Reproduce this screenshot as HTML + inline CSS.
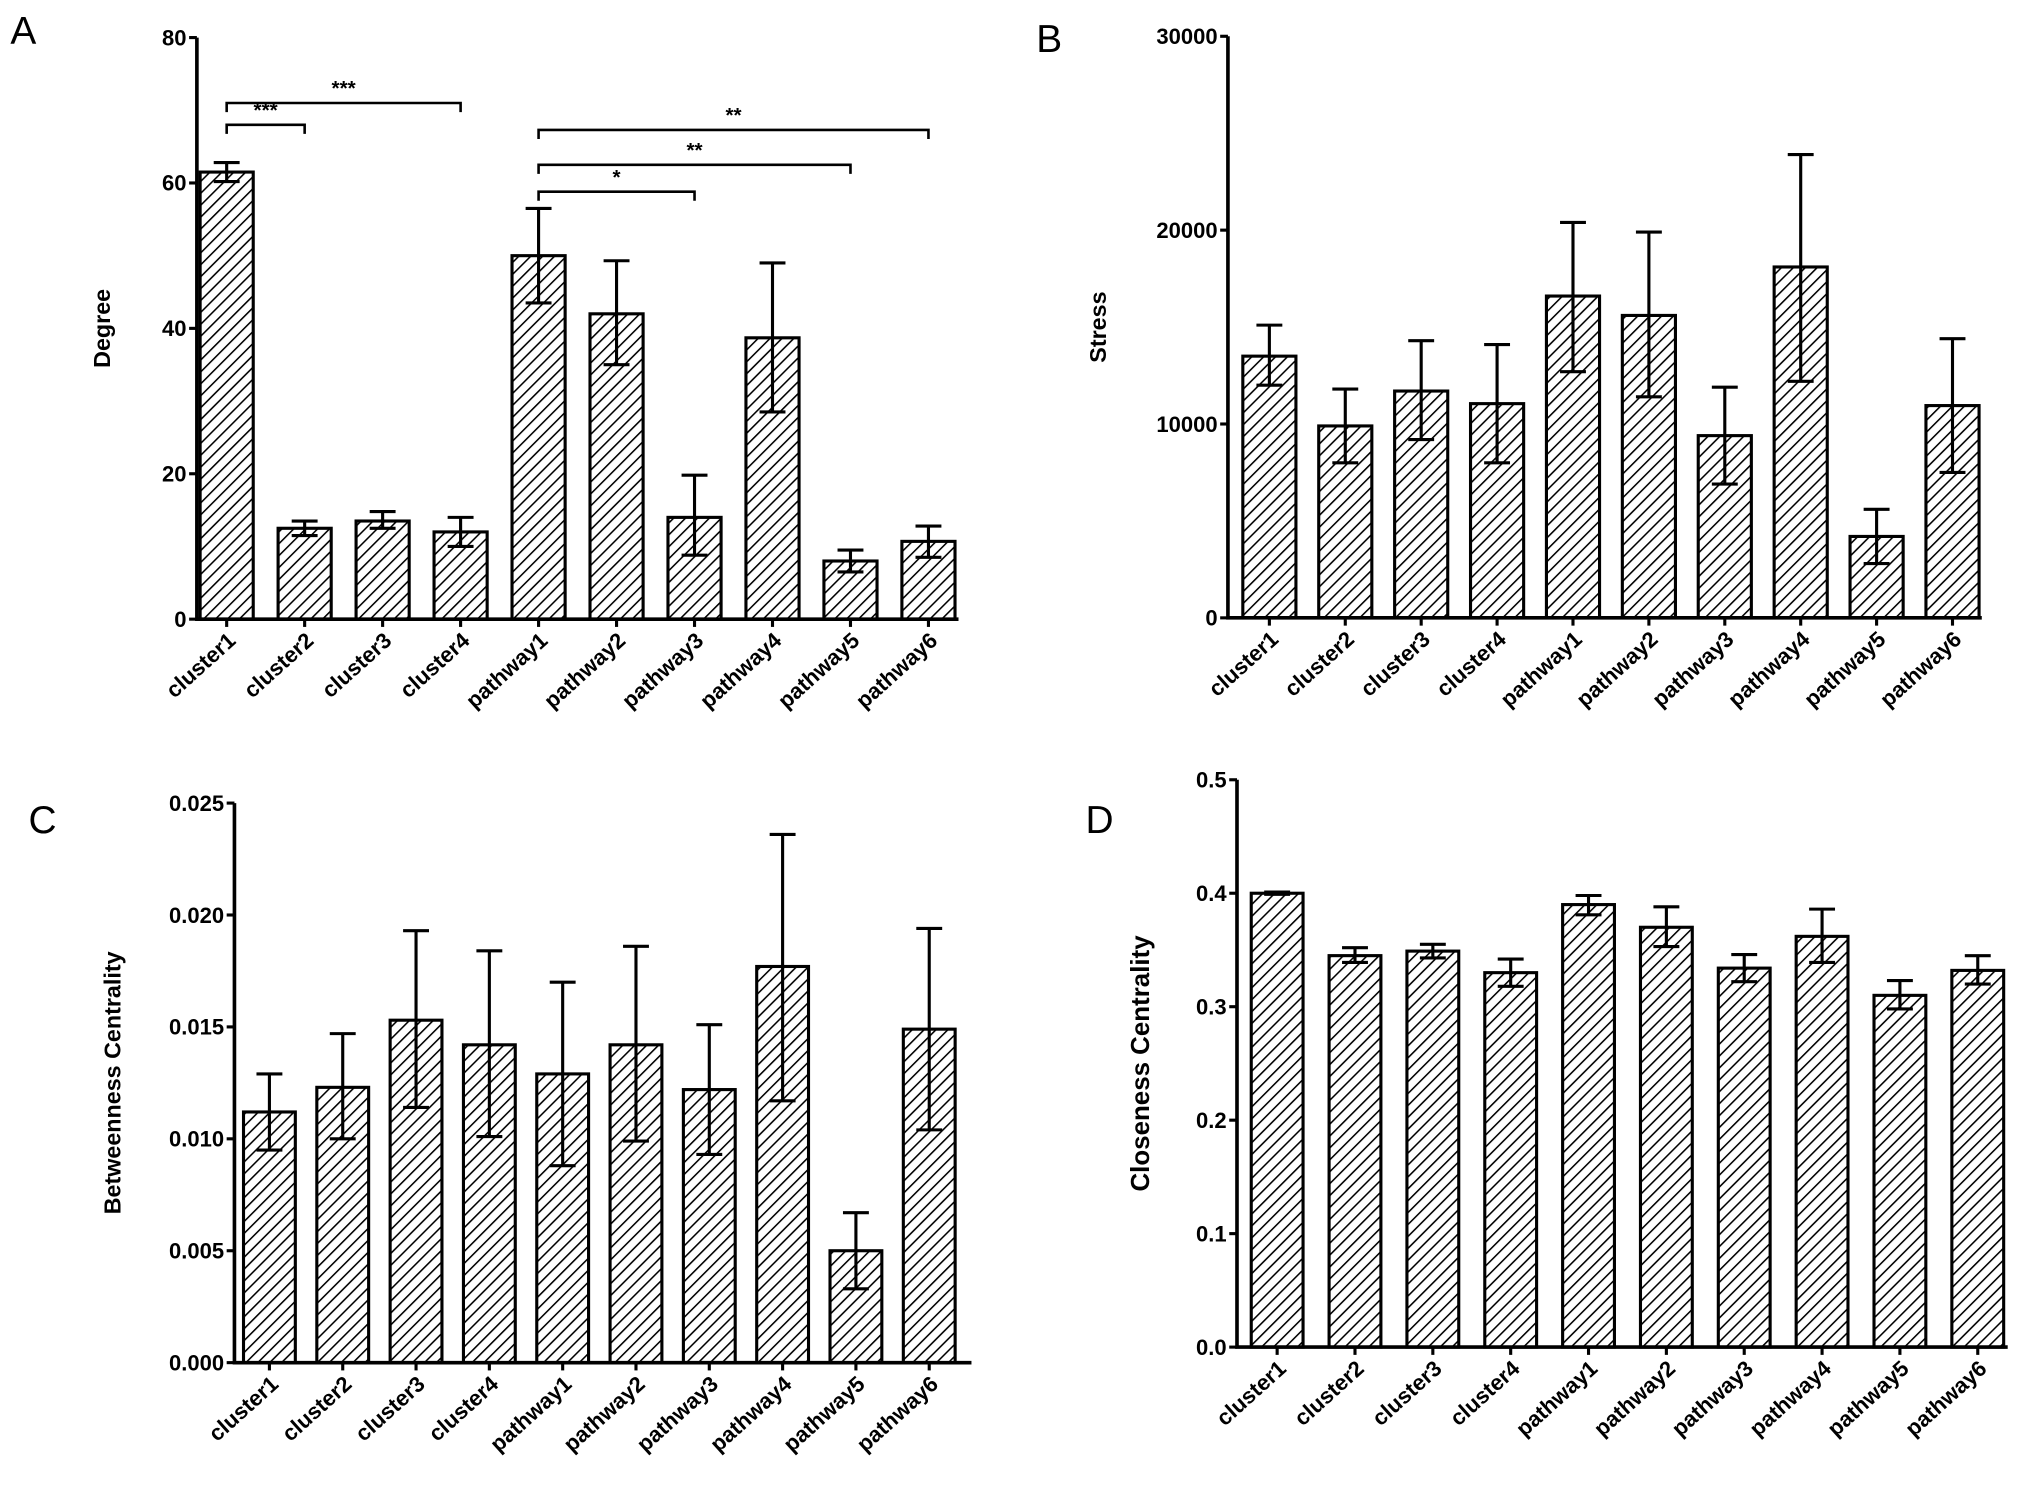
<!DOCTYPE html>
<html><head><meta charset="utf-8"><style>
html,body{margin:0;padding:0;background:#fff;}
svg{display:block;}
text{font-family:"Liberation Sans",Arial,sans-serif;}
</style></head><body>
<svg id="fig" width="2031" height="1494" viewBox="0 0 1568 1153.4" xmlns="http://www.w3.org/2000/svg">
<defs>
<pattern id="hatch" patternUnits="userSpaceOnUse" width="6.5" height="6.5" patternTransform="rotate(45)">
<line x1="0" y1="0" x2="0" y2="6.5" stroke="#000" stroke-width="2.4"/>
</pattern>
</defs>
</svg>
<script>
const categories = ["cluster1","cluster2","cluster3","cluster4","pathway1","pathway2","pathway3","pathway4","pathway5","pathway6"];
const degreeMean = [61.5,12.5,13.5,12,50,42,14,38.7,8,10.7];
const degreeLow  = [60.2,11.5,12.5,10,43.5,35,8.8,28.5,6.5,8.5];
const degreeHigh = [62.8,13.5,14.8,14,56.5,49.3,19.8,49,9.5,12.8];
const degreeTicks = ["0","20","40","60","80"];
const stressMean = [13500,9900,11700,11050,16600,15600,9400,18100,4200,10950];
const stressLow  = [12000,8000,9200,8000,12700,11400,6900,12200,2800,7500];
const stressHigh = [15100,11800,14300,14100,20400,19900,11900,23900,5600,14400];
const stressTicks = ["0","10000","20000","30000"];
const betwMean = [0.0112,0.0123,0.0153,0.0142,0.0129,0.0142,0.0122,0.0177,0.0050,0.0149];
const betwLow  = [0.0095,0.0100,0.0114,0.0101,0.0088,0.0099,0.0093,0.0117,0.0033,0.0104];
const betwHigh = [0.0129,0.0147,0.0193,0.0184,0.0170,0.0186,0.0151,0.0236,0.0067,0.0194];
const betwTicks = ["0.000","0.005","0.010","0.015","0.020","0.025"];
const closeMean = [0.400,0.345,0.349,0.330,0.390,0.370,0.334,0.362,0.310,0.332];
const closeLow  = [0.399,0.339,0.343,0.318,0.381,0.353,0.322,0.339,0.298,0.320];
const closeHigh = [0.401,0.352,0.355,0.342,0.398,0.388,0.346,0.386,0.323,0.345];
const closeTicks = ["0.0","0.1","0.2","0.3","0.4","0.5"];
const sigFrom = [0,0,4,4,4];
const sigTo   = [1,3,6,8,9];
const sigLevel = [68,71,58.8,62.5,67.3];
const sigStars = ["***","***","*","**","**"];

const NS="http://www.w3.org/2000/svg";
const svg=document.getElementById('fig');
function mk(tag,attrs,parent){const e=document.createElementNS(NS,tag);for(const k in attrs)e.setAttribute(k,attrs[k]);(parent||svg).appendChild(e);return e;}

function panel(cfg){
  const g=mk('g',{});
  
  
  const ymax=cfg.max;
  const y=v=>cfg.y0-(v/ymax)*(cfg.y0-cfg.yTop);
  const x=i=>cfg.c0+i*cfg.pitch;
  const bw=cfg.bw;
  cfg.mean.forEach((v,i)=>{
    const r=mk('rect',{x:x(i)-bw/2,y:y(v),width:bw,height:cfg.y0-y(v),fill:'url(#hatch)',stroke:'#000','stroke-width':2.4},g);
    
    
    const e=mk('path',{d:`M${x(i)},${y(cfg.lo[i])}V${y(cfg.hi[i])}M${x(i)-10},${y(cfg.hi[i])}H${x(i)+10}M${x(i)-10},${y(cfg.lo[i])}H${x(i)+10}`,stroke:'#000','stroke-width':2.4,fill:'none'},g);
    
    
  });
  const ax=mk('path',{d:`M${cfg.ax},${cfg.yTop}V${cfg.y0}H${cfg.xEnd}`,stroke:'#000','stroke-width':2.8,fill:'none'},g);
  
  
  cfg.ticks.forEach((t,k)=>{
    const val=k*ymax/(cfg.ticks.length-1);
    const yy=y(val);
    mk('line',{x1:cfg.ax-6,x2:cfg.ax,y1:yy,y2:yy,stroke:'#000','stroke-width':2.4},g);
    const tx=mk('text',{x:cfg.ax-8,y:yy+6,'text-anchor':'end','font-size':17,'font-weight':'bold'},g);
    tx.textContent=t;
    
    
  });
  categories.forEach((c,i)=>{
    mk('line',{x1:x(i),x2:x(i),y1:cfg.y0,y2:cfg.y0+6,stroke:'#000','stroke-width':2.4},g);
    const tx=mk('text',{x:x(i)+8,y:cfg.y0+18,'text-anchor':'end','font-size':17,'font-weight':'bold',transform:`rotate(-42 ${x(i)+8} ${cfg.y0+18})`},g);
    tx.textContent=c;
    
    
  });
  const lab=mk('text',{x:cfg.labX,y:(cfg.yTop+cfg.y0)/2,'text-anchor':'middle','font-size':cfg.labSize,'font-weight':'bold',transform:`rotate(-90 ${cfg.labX} ${(cfg.yTop+cfg.y0)/2})`},g);
  lab.textContent=cfg.label;
  
  
  const L=mk('text',{x:cfg.letterX,y:cfg.letterY,'font-size':30},g);
  L.textContent=cfg.letter;
  
  
  return {x,y,g};
}

const A=panel({name:'panel-a-degree',mean:degreeMean,lo:degreeLow,hi:degreeHigh,ticks:degreeTicks,max:80,y0:478,yTop:29,ax:152,xEnd:740,c0:175,pitch:60.2,bw:41,label:'Degree',labX:85,labSize:18,letter:'A',letterX:8,letterY:34});
panel({name:'panel-b-stress',mean:stressMean,lo:stressLow,hi:stressHigh,ticks:stressTicks,max:30000,y0:477,yTop:28,ax:948,xEnd:1530,c0:980,pitch:58.6,bw:41,label:'Stress',labX:854,labSize:18,letter:'B',letterX:800,letterY:40});
panel({name:'panel-c-betweenness',mean:betwMean,lo:betwLow,hi:betwHigh,ticks:betwTicks,max:0.025,y0:1052,yTop:620,ax:181,xEnd:750,c0:208,pitch:56.6,bw:40,label:'Betweenness Centrality',labX:93,labSize:18,letter:'C',letterX:22,letterY:643});
panel({name:'panel-d-closeness',mean:closeMean,lo:closeLow,hi:closeHigh,ticks:closeTicks,max:0.5,y0:1040,yTop:602,ax:955,xEnd:1550,c0:986,pitch:60.1,bw:40,label:'Closeness Centrality',labX:887,labSize:20,letter:'D',letterX:838,letterY:643});

sigFrom.forEach((f,k)=>{
  const x1=A.x(f),x2=A.x(sigTo[k]),yy=A.y(sigLevel[k]);
  const p=mk('path',{d:`M${x1},${yy+7}V${yy}H${x2}V${yy+7}`,stroke:'#000','stroke-width':2,fill:'none'},A.g);
  
  
  const t=mk('text',{x:(x1+x2)/2,y:yy-6,'text-anchor':'middle','font-size':16,'font-weight':'bold'},A.g);
  t.textContent=sigStars[k];
  
  
});
</script>
</body></html>
